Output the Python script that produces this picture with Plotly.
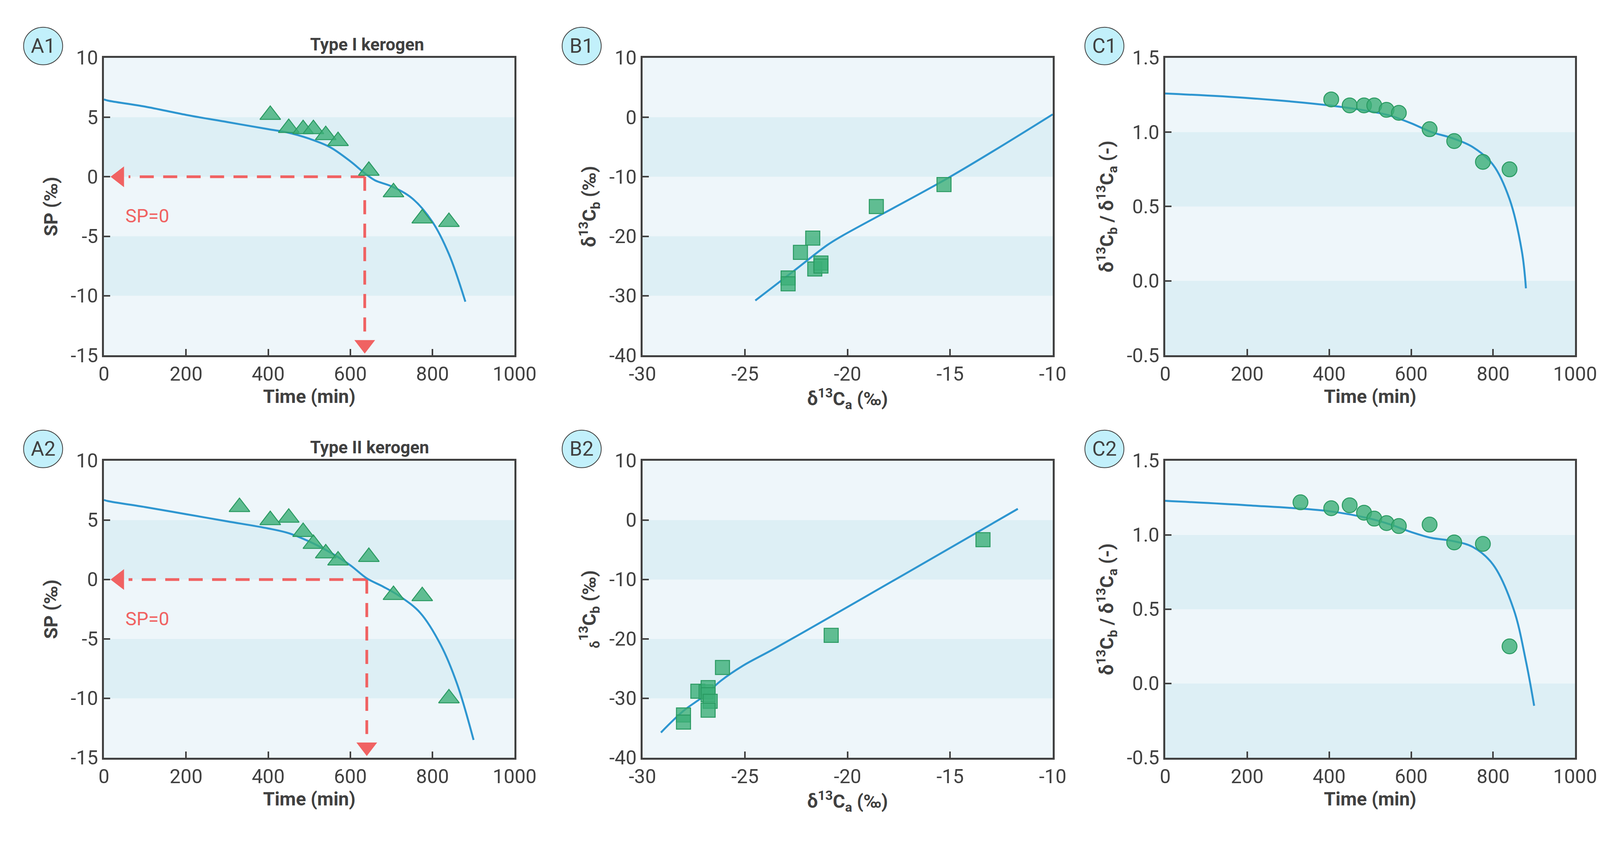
import plotly.graph_objects as go

# ---- data ----
a1_t = [405, 450, 485, 510, 540, 570, 645, 705, 775, 840]
a1_sp = [5.2, 4.1, 4.0, 4.0, 3.5, 3.0, 0.5, -1.3, -3.5, -3.8]
a1_ct = [0, 10, 100, 200, 300, 400, 450, 500, 550, 600, 635, 660, 700, 750, 800, 840, 880]
a1_csp = [6.5, 6.4, 5.9, 5.2, 4.6, 4.0, 3.7, 3.2, 2.5, 1.3, 0.3, -0.3, -0.8, -1.8, -3.8, -6.5, -10.5]

a2_t = [330, 405, 450, 485, 510, 540, 570, 645, 705, 775, 840]
a2_sp = [6.1, 5.0, 5.2, 4.0, 3.0, 2.2, 1.6, 1.9, -1.3, -1.4, -10.0]
a2_ct = [0, 10, 100, 200, 300, 400, 450, 500, 550, 600, 640, 680, 720, 770, 820, 860, 900]
a2_csp = [6.7, 6.6, 6.1, 5.5, 4.9, 4.3, 3.9, 3.2, 2.3, 1.2, 0.1, -0.6, -1.4, -2.8, -5.5, -8.8, -13.5]

b1_a = [-22.9, -22.9, -22.3, -21.7, -21.6, -21.3, -21.3, -18.6, -15.3]
b1_b = [-27.0, -28.0, -22.7, -20.3, -25.5, -24.5, -25.0, -15.0, -11.3]
b1_la = [-24.5, -22.5, -21.0, -20.3, -15.0, -10.0]
b1_lb = [-30.8, -25.5, -21.5, -20.0, -10.0, 0.5]

b2_a = [-27.3, -26.9, -26.8, -26.8, -26.7, -26.8, -28.0, -28.0, -26.1, -20.8, -13.4]
b2_b = [-28.8, -28.9, -28.2, -29.4, -30.5, -32.0, -32.8, -34.0, -24.8, -19.4, -3.3]
b2_la = [-29.1, -28.0, -27.0, -26.2, -25.1, -23.5, -11.7]
b2_lb = [-35.75, -32.1, -29.6, -27.1, -24.5, -21.5, 1.9]

c1_t = a1_t
c1_r = [1.22, 1.18, 1.18, 1.18, 1.15, 1.13, 1.02, 0.94, 0.80, 0.75]
c1_ct = [0, 200, 400, 500, 550, 600, 650, 700, 750, 800, 840, 870, 880]
c1_cr = [1.26, 1.23, 1.18, 1.14, 1.11, 1.06, 1.00, 0.96, 0.90, 0.78, 0.55, 0.20, -0.05]

c2_t = a2_t
c2_r = [1.22, 1.18, 1.20, 1.15, 1.11, 1.08, 1.06, 1.07, 0.95, 0.94, 0.25]
c2_ct = [0, 200, 400, 500, 550, 600, 650, 700, 750, 800, 850, 880, 900]
c2_cr = [1.23, 1.20, 1.16, 1.11, 1.07, 1.02, 0.98, 0.96, 0.92, 0.80, 0.50, 0.15, -0.15]

sp_zero = [635, 640]

# tick values per panel column
a_xticks = [0, 200, 400, 600, 800, 1000]
a_yticks = [-15, -10, -5, 0, 5, 10]
b_xticks = [-30, -25, -20, -15, -10]
b_yticks = [-40, -30, -20, -10, 0, 10]
c_yticks = [-0.5, 0.0, 0.5, 1.0, 1.5]

LINE = "#2e96d0"
MK = "rgba(60,175,120,0.8)"
MKL = "#2a9a62"
RED = "#f06262"
DARK = "#404040"
LIGHT = "#eef6fa"
BAND = "#ddeff5"

fig = go.Figure()

xd = {"A": [0.063, 0.3197], "B": [0.3996, 0.656], "C": [0.7263, 0.9825]}
yd = {1: [0.5813, 0.935], 2: [0.1027, 0.4559]}
panels = [("A", 1, 1), ("B", 1, 2), ("C", 1, 3), ("A", 2, 4), ("B", 2, 5), ("C", 2, 6)]

def ax_name(i):
    return ("x", "y") if i == 1 else (f"x{i}", f"y{i}")

def add_line(i, x, y):
    xa, ya = ax_name(i)
    fig.add_trace(go.Scatter(x=x, y=y, mode="lines", line=dict(color=LINE, width=5, shape="spline"),
                             xaxis=xa, yaxis=ya, showlegend=False))

def add_pts(i, x, y, sym, size):
    xa, ya = ax_name(i)
    fig.add_trace(go.Scatter(x=x, y=y, mode="markers",
                             marker=dict(symbol=sym, size=size, color=MK, line=dict(color=MKL, width=2.5)),
                             xaxis=xa, yaxis=ya, showlegend=False))

def fmt(v):
    return (f"{v:.1f}" if isinstance(v, float) else str(v))

# A panels
for i, (ct, cs, t, s, xz) in zip([1, 4], [(a1_ct, a1_csp, a1_t, a1_sp, sp_zero[0]),
                                         (a2_ct, a2_csp, a2_t, a2_sp, sp_zero[1])]):
    xa, ya = ax_name(i)
    fig.add_trace(go.Scatter(x=[xz, 60], y=[0, 0], mode="lines", line=dict(color=RED, width=7, dash="36px,24px"),
                             xaxis=xa, yaxis=ya, showlegend=False))
    fig.add_trace(go.Scatter(x=[xz, xz], y=[0, -13.0], mode="lines", line=dict(color=RED, width=7, dash="36px,24px"),
                             xaxis=xa, yaxis=ya, showlegend=False))
    fig.add_trace(go.Scatter(x=[38, xz], y=[0, -14.1], mode="markers",
                             marker=dict(symbol=["triangle-left", "triangle-down"], size=46, color=RED),
                             xaxis=xa, yaxis=ya, showlegend=False))
    add_line(i, ct, cs)
    add_pts(i, t, s, "triangle-up", 46)
    fig.add_annotation(x=50, y=-2.3, xref=xa, yref=ya, text="SP=0", showarrow=False, xanchor="left",
                       yanchor="top", font=dict(color=RED, size=48))

add_line(2, b1_la, b1_lb); add_pts(2, b1_a, b1_b, "square", 36)
add_line(5, b2_la, b2_lb); add_pts(5, b2_a, b2_b, "square", 36)
add_line(3, c1_ct, c1_cr); add_pts(3, c1_t, c1_r, "circle", 38)
add_line(6, c2_ct, c2_cr); add_pts(6, c2_t, c2_r, "circle", 38)

cfg = {
    "A": dict(xr=[0, 1000], xt=a_xticks, yr=[-15, 10], yt=a_yticks, bands=[(0, 5), (-10, -5)],
              xtitle="Time (min)"),
    "B": dict(xr=[-30, -10], xt=b_xticks, yr=[-40, 10], yt=b_yticks, bands=[(-10, 0), (-30, -20)],
              xtitle="δ<sup>13</sup>C<sub>a</sub> (‰)"),
    "C": dict(xr=[0, 1000], xt=a_xticks, yr=[-0.5, 1.5], yt=c_yticks, bands=[(0.5, 1.0), (-0.5, 0)],
              xtitle="Time (min)"),
}
ytitles = {1: "SP (‰)", 2: "δ<sup>13</sup>C<sub>b</sub> (‰)", 3: "δ<sup>13</sup>C<sub>b</sub> / δ<sup>13</sup>C<sub>a</sub> (-)",
           4: "SP (‰)", 5: "<sub>δ</sub><sup>13</sup>C<sub>b</sub> (‰)", 6: "δ<sup>13</sup>C<sub>b</sub> / δ<sup>13</sup>C<sub>a</sub> (-)"}
labels = {1: "A1", 2: "B1", 3: "C1", 4: "A2", 5: "B2", 6: "C2"}

tickfont = dict(size=50, color=DARK)
titlefont = dict(size=48, color=DARK, weight="bold")
for col, row, i in panels:
    c = cfg[col]
    xa, ya = ax_name(i)
    xk = "xaxis" if i == 1 else f"xaxis{i}"
    yk = "yaxis" if i == 1 else f"yaxis{i}"
    fig.update_layout(**{
        xk: dict(domain=xd[col], anchor=ya, range=c["xr"], tickvals=c["xt"], ticktext=[fmt(v) for v in c["xt"]],
                 ticks="inside", ticklen=16,
                 tickwidth=4, tickcolor=DARK, showline=True, linecolor=DARK, linewidth=5, mirror=True,
                 showgrid=False, zeroline=False, tickfont=tickfont, automargin=False,
                 title=dict(text=c["xtitle"], font=titlefont, standoff=8)),
        yk: dict(domain=yd[row], anchor=xa, range=c["yr"], tickvals=c["yt"], ticktext=[fmt(v) for v in c["yt"]],
                 ticks="inside", ticklen=16,
                 tickwidth=4, tickcolor=DARK, showline=True, linecolor=DARK, linewidth=5, mirror=True,
                 showgrid=False, zeroline=False, tickfont=tickfont, automargin=False,
                 title=dict(text=ytitles[i], font=titlefont, standoff=20)),
    })
    fig.add_shape(type="rect", xref=f"{xa} domain", yref=f"{ya} domain", x0=0, x1=1, y0=0, y1=1,
                  fillcolor=LIGHT, line_width=0, layer="below")
    for y0, y1 in c["bands"]:
        fig.add_shape(type="rect", xref=f"{xa} domain", yref=ya, x0=0, x1=1, y0=y0, y1=y1,
                      fillcolor=BAND, line_width=0, layer="below")
    # panel letter badge (pixel-sized circle anchored in paper coords)
    px = xd[col][0] - 0.038
    py = yd[row][1] + 0.014
    fig.add_shape(type="circle", xref="paper", yref="paper", xsizemode="pixel", ysizemode="pixel",
                  xanchor=px, yanchor=py, x0=-50, x1=50, y0=-48, y1=48,
                  fillcolor="#c2f0fb", line=dict(color=DARK, width=2))
    fig.add_annotation(x=px, y=py, xref="paper", yref="paper", text=labels[i], showarrow=False,
                       xanchor="center", yanchor="middle", font=dict(size=52, color=DARK))

fig.add_annotation(x=sum(xd["A"]) / 2, y=yd[1][1], xref="paper", yref="paper", yanchor="bottom", yshift=6,
                   text="<b>Type I kerogen</b>", showarrow=False, font=dict(size=44, color=DARK))
fig.add_annotation(x=sum(xd["A"]) / 2, y=yd[2][1], xref="paper", yref="paper", yanchor="bottom", yshift=6,
                   text="<b>Type II kerogen</b>", showarrow=False, font=dict(size=44, color=DARK))

fig.update_layout(autosize=True, margin=dict(l=0, r=0, t=0, b=0, autoexpand=False),
                  paper_bgcolor="white", plot_bgcolor="white",
                  font=dict(family="Roboto", color=DARK))

fig.write_html("out.html", default_width="100vw", default_height="100vh",
               config={"responsive": True})
